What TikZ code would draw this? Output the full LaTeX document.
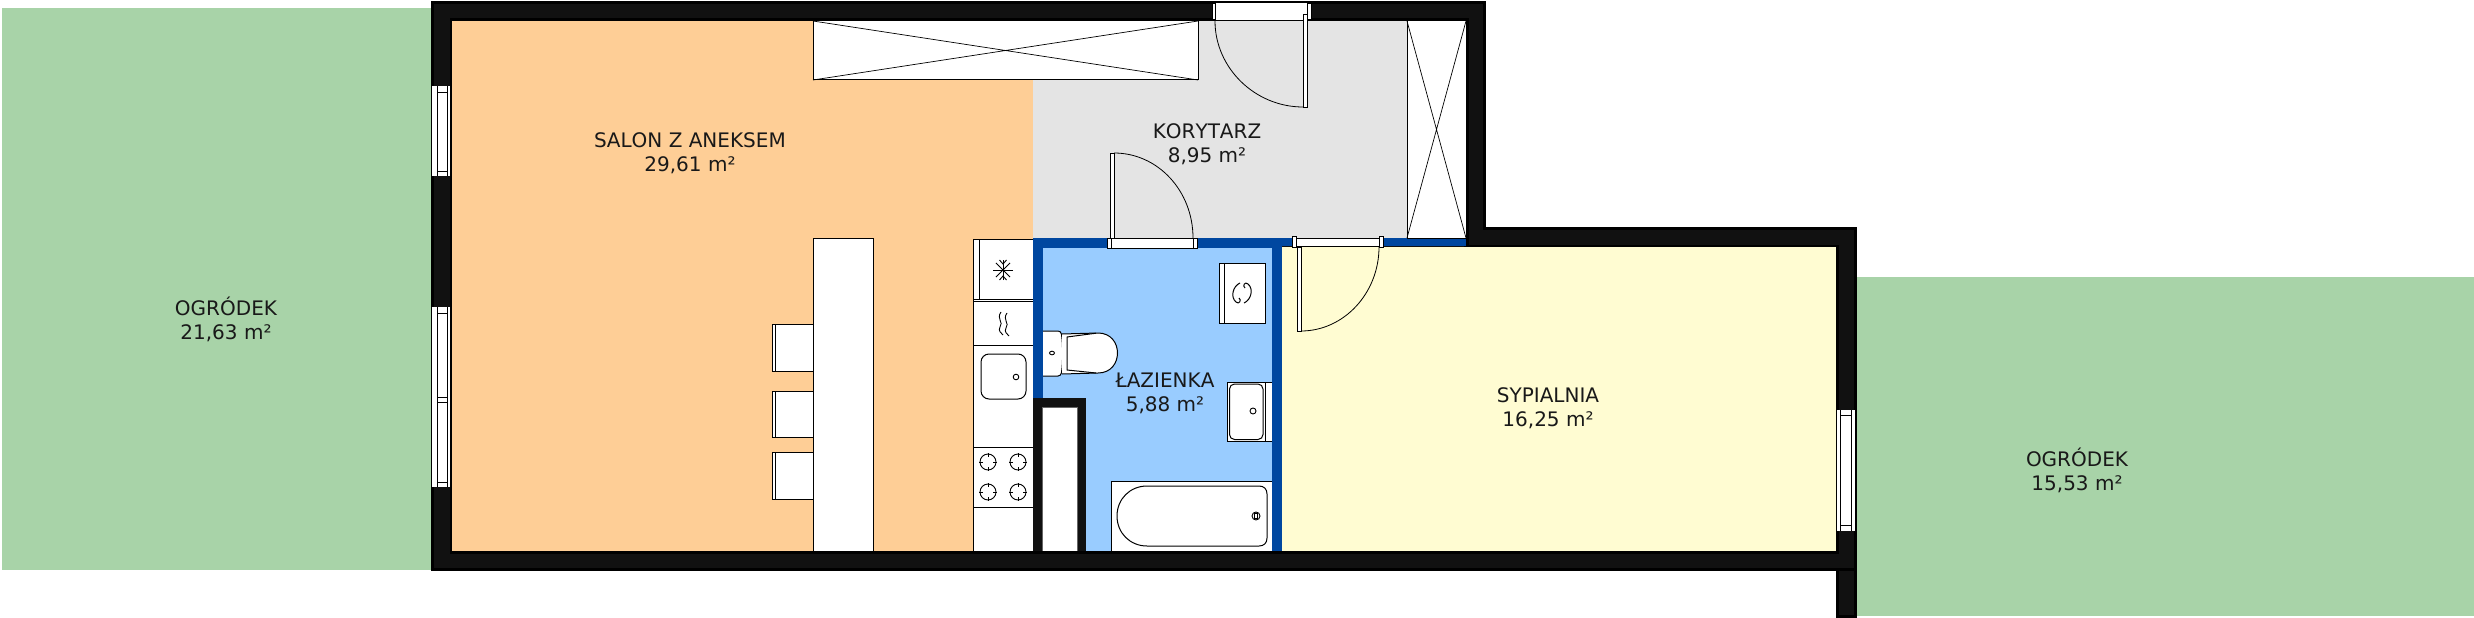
\documentclass[tikz,border=0pt]{standalone}
\usepackage{fontspec}
\setmainfont[Kerning=Off]{DejaVu Sans}
\usetikzlibrary{arrows}

\definecolor{garden}{HTML}{A8D3A8}
\definecolor{salon}{HTML}{FECE96}
\definecolor{hall}{HTML}{E4E4E4}
\definecolor{bath}{HTML}{99CCFF}
\definecolor{bedroom}{HTML}{FFFCD2}
\definecolor{bluewall}{HTML}{0047A0}
\definecolor{wall}{HTML}{111111}

\begin{document}
\begin{tikzpicture}[x=1pt,y=-1pt,line width=1pt,line join=miter,
    room label/.style={align=center,font=\fontsize{20}{24}\selectfont,text=black!90,inner sep=0pt},
    unit/.style={draw=black,fill=white},
    sign/.style={draw=black,line width=.9pt},
    wall body/.style={draw=black,fill=wall,line width=3pt},
    door arc/.style={draw=black,line width=.8pt}]

    \useasboundingbox (0,0) rectangle (2474,618);

    %% gardens
    \fill[garden] (2,8) rectangle (431,570);
    \fill[garden] (1857,277) rectangle (2474,616);

    %% walls
    \draw[wall body] (432.5,2.5) -- (1484.5,2.5) -- (1484.5,228.5) -- (1855.5,228.5) -- (1855.5,569) -- (432.5,569) -- cycle;
    \draw[wall body] (1837.5,569) rectangle (1855.5,616.5);
    \draw[black,line width=5pt] (452,21) -- (1466,21) -- (1466,247) -- (1836,247) -- (1836,551) -- (452,551) -- cycle;

    %% rooms
    \fill[salon] (452,21) rectangle (1033,551);
    \fill[hall] (1033,21) rectangle (1466,238);
    \fill[bedroom] (1282,247) rectangle (1836,551);
    \fill[bluewall] (1033,238) rectangle (1282,551);
    \fill[bluewall] (1282,238) rectangle (1466,246);
    \fill[bath] (1043,248) rectangle (1272,551);
    \fill[wall] (1033,398) rectangle (1086,551);
    \fill[white] (1042,407) rectangle (1077,551);
    \draw[black!60,line width=.7pt] (1042,551) -- (1042,407) -- (1077,407) -- (1077,551);

    %% closets
    \draw[unit] (813,21) rectangle (1198,80);
    \draw[line width=.7pt] (813,21) -- (1198,80) (813,80) -- (1198,21);
    \draw[unit] (1407,21) rectangle (1466,238);
    \draw[line width=.7pt] (1407,21) -- (1466,238) (1407,238) -- (1466,21);

    %% windows
    \foreach \ya/\yb in {86/176,307/487} {
      \fill[white] (432,\ya) rectangle (450,\yb);
      \draw (437.5,\ya) -- (437.5,\yb) (447.5,\ya) -- (447.5,\yb);
      \draw (437.5,\ya+6) -- (447.5,\ya+6) (437.5,\yb-5) -- (447.5,\yb-5);
    }
    \draw (437.5,397) -- (447.5,397) (437.5,402) -- (447.5,402);
    \fill[white] (1837,410) rectangle (1855,531);
    \draw (1840.5,410) -- (1840.5,531) (1851,410) -- (1851,531);
    \draw (1840.5,415) -- (1851,415) (1840.5,525) -- (1851,525);

    %% doors
    \fill[white] (1215,3) rectangle (1307,20);
    \draw (1215,20.5) -- (1307,20.5);
    \draw[unit] (1212,4) rectangle (1215,20);
    \draw[unit] (1307,4) rectangle (1311,20);
    \draw[unit] (1303,15) rectangle (1307,107);
    \draw[door arc] (1215,21) .. controls (1215,68) and (1255,107) .. (1303,107);

    \draw[unit] (1111,238) rectangle (1193,248);
    \draw[unit] (1107,238) rectangle (1111,248);
    \draw[unit] (1193,238) rectangle (1197,248);
    \draw[unit] (1110,153) rectangle (1114,238);
    \draw[door arc] (1114,153) .. controls (1158,153) and (1193,191) .. (1193,238);

    \draw[unit] (1296,238) rectangle (1379,246.5);
    \draw[unit] (1292,236) rectangle (1296,247);
    \draw[unit] (1379,236) rectangle (1383,247);
    \draw[unit] (1297,247) rectangle (1301,331);
    \draw[door arc] (1301,331) .. controls (1344,331) and (1379,293) .. (1379,247);

    %% table and chairs
    \draw[unit] (813,238) rectangle (873,551);
    \foreach \ya/\yb in {324/371,391/437,452/499} {
      \draw[unit] (813,\ya) -- (772.5,\ya) -- (772.5,\yb) -- (813,\yb);
      \draw (775.5,\ya) -- (775.5,\yb);
    }

    %% kitchen
    \draw[unit] (1033,239) -- (973,239) -- (973,551) -- (1033,551);
    \draw (979,239) -- (979,299);
    \draw (973,299) -- (1033,299) (973,301) -- (1033,301) (973,345) -- (1033,345) (973,447) -- (1033,447) (973,507) -- (1033,507);
    \foreach \ang in {0,45,90,135} {
      \draw[sign] (1003,270)+(\ang:10) -- +(\ang+180:10);
    }
    \draw[sign] (999.5,260) -- (1003,264) -- (1006.5,260) (999.5,280) -- (1003,276) -- (1006.5,280);
    \draw[sign] (1001,312) .. controls (996,319) and (1004,322) .. (1000,327) .. controls (998,331) and (1001,333) .. (1003,335);
    \draw[sign] (1007,313) .. controls (1002,320) and (1010,323) .. (1006,328) .. controls (1004,332) and (1007,334) .. (1009,336);
    \draw[unit,rounded corners=8pt] (981,354) rectangle (1026,399);
    \draw[sign] (1016,377) circle (2.8);
    \foreach \xb in {988,1018} \foreach \yb in {462,492} {
      \draw[sign] (\xb,\yb) circle (8);
      \draw[sign] (\xb-9,\yb) -- (\xb-5,\yb) (\xb+5,\yb) -- (\xb+9,\yb) (\xb,\yb-9) -- (\xb,\yb-5) (\xb,\yb+5) -- (\xb,\yb+9);
    }

    %% bathroom
    \draw[unit] (1219,263) rectangle (1265,323);
    \draw (1224,263) -- (1224,323);
    \draw[sign,line width=1pt] (1240,283) .. controls (1233,286) and (1230,297) .. (1236,302) .. controls (1239,305) and (1242,300) .. (1239,298);
    \draw[sign,line width=1pt] (1244,303) .. controls (1251,300) and (1254,289) .. (1248,284) .. controls (1245,281) and (1242,286) .. (1245,288);

    \draw[unit] (1272,382) -- (1227,382) -- (1227,441) -- (1272,441);
    \draw[rounded corners=5pt] (1229.5,384) rectangle (1263,439.5);
    \draw (1265,382) -- (1265,441);
    \draw[sign] (1253,411) circle (3);

    \draw[unit,rounded corners=3pt] (1043,331) -- (1061,331) .. controls (1063,345) and (1063,362) .. (1061,376) -- (1043,376);
    \draw[unit] (1062,334) -- (1098,333) .. controls (1124,333) and (1124,373) .. (1098,373) -- (1062,374);
    \draw (1096,333.2) -- (1067,337) -- (1067,370) -- (1096,373);
    \draw[sign] (1052,353) ellipse (2.5 and 1.8);

    \draw[unit] (1272,481) -- (1111,481) -- (1111,551) -- (1272,551);
    \draw (1147,486) -- (1259,486) .. controls (1264,486) and (1267,489) .. (1267,494) -- (1267,538) .. controls (1267,543) and (1264,546) .. (1259,546) -- (1147,546) .. controls (1130,546) and (1117,533) .. (1117,516) .. controls (1117,499) and (1130,486) .. (1147,486) -- cycle;
    \draw[sign] (1256,516) circle (4);
    \draw[sign] (1254.5,513.5) rectangle (1257,518.5);

    %% labels
    \node[room label] (GARDENW) at (226,319) {OGRÓDEK\\21,63 m²};
    \node[room label] (SALON) at (690,153) {SALON Z ANEKSEM\\29,61 m²};
    \node[room label] (HALL) at (1207,144) {KORYTARZ\\8,95 m²};
    \node[room label] (BATH) at (1165,393) {ŁAZIENKA\\5,88 m²};
    \node[room label] (BEDROOM) at (1548,408) {SYPIALNIA\\16,25 m²};
    \node[room label] (GARDENE) at (2077,470) {OGRÓDEK\\15,53 m²};
  \end{tikzpicture}
\end{document}
